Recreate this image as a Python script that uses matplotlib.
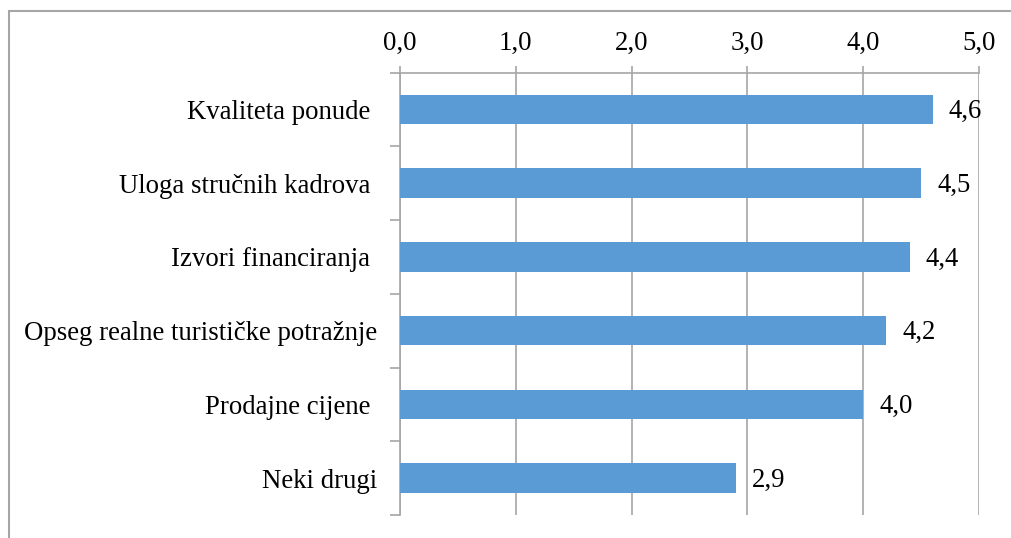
import matplotlib
matplotlib.use("Agg")
import matplotlib.pyplot as plt
from matplotlib.patches import Rectangle

categories = ["Kvaliteta ponude ", "Uloga stručnih kadrova ", "Izvori financiranja ",
              "Opseg realne turističke potražnje", "Prodajne cijene ", "Neki drugi"]
values = [4.6, 4.5, 4.4, 4.2, 4.0, 2.9]
xticks = [0, 1, 2, 3, 4, 5]
xtick_labels = ["0,0", "1,0", "2,0", "3,0", "4,0", "5,0"]

plt.rcParams['font.family'] = ['Liberation Serif', 'DejaVu Serif']
FS = 19.3
W, H = 1012, 538
fig = plt.figure(figsize=(W / 100, H / 100), dpi=100)
ax = fig.add_axes([400 / W, 1 - 515 / H, (979 - 400) / W, (515 - 72.5) / H])

grey = '#A6A6A6'
n = len(categories)
ypos = list(range(n))
ax.barh(ypos, values, height=0.4, color='#5B9BD5', zorder=3)
ax.set_ylim(n - 0.5, -0.5)
ax.set_xlim(0, 5)

ax.xaxis.tick_top()
ax.set_xticks(xticks)
ax.set_xticklabels(xtick_labels, fontsize=FS)
ax.tick_params(axis='x', length=5, width=1.2, color=grey, pad=7)
ax.grid(axis='x', color=grey, linewidth=1.2, zorder=0)

ax.set_yticks([i - 0.5 for i in range(n + 1)], minor=False)
ax.set_yticklabels([])
ax.set_yticks(ypos, minor=True)
ax.set_yticklabels(categories, minor=True, fontsize=FS)
ax.tick_params(axis='y', which='major', length=7, width=1.2, color=grey, direction='out')
ax.tick_params(axis='y', which='minor', length=0, pad=16.5)

for s in ['right', 'bottom']:
    ax.spines[s].set_visible(False)
for s in ['left', 'top']:
    ax.spines[s].set_color(grey)
    ax.spines[s].set_linewidth(1.2)

for y, v in zip(ypos, values):
    ax.annotate(f"{v:.1f}".replace('.', ','), xy=(v, y), xytext=(11.5, -1.5),
                textcoords='offset points', va='center', ha='left', fontsize=FS)

fig.patches.append(Rectangle((8.5 / W, -0.1), 1.2, 1 - 10.5 / H + 0.1,
                             transform=fig.transFigure, fill=False,
                             edgecolor=grey, linewidth=1.5))

fig.savefig('out.png', dpi=100)
